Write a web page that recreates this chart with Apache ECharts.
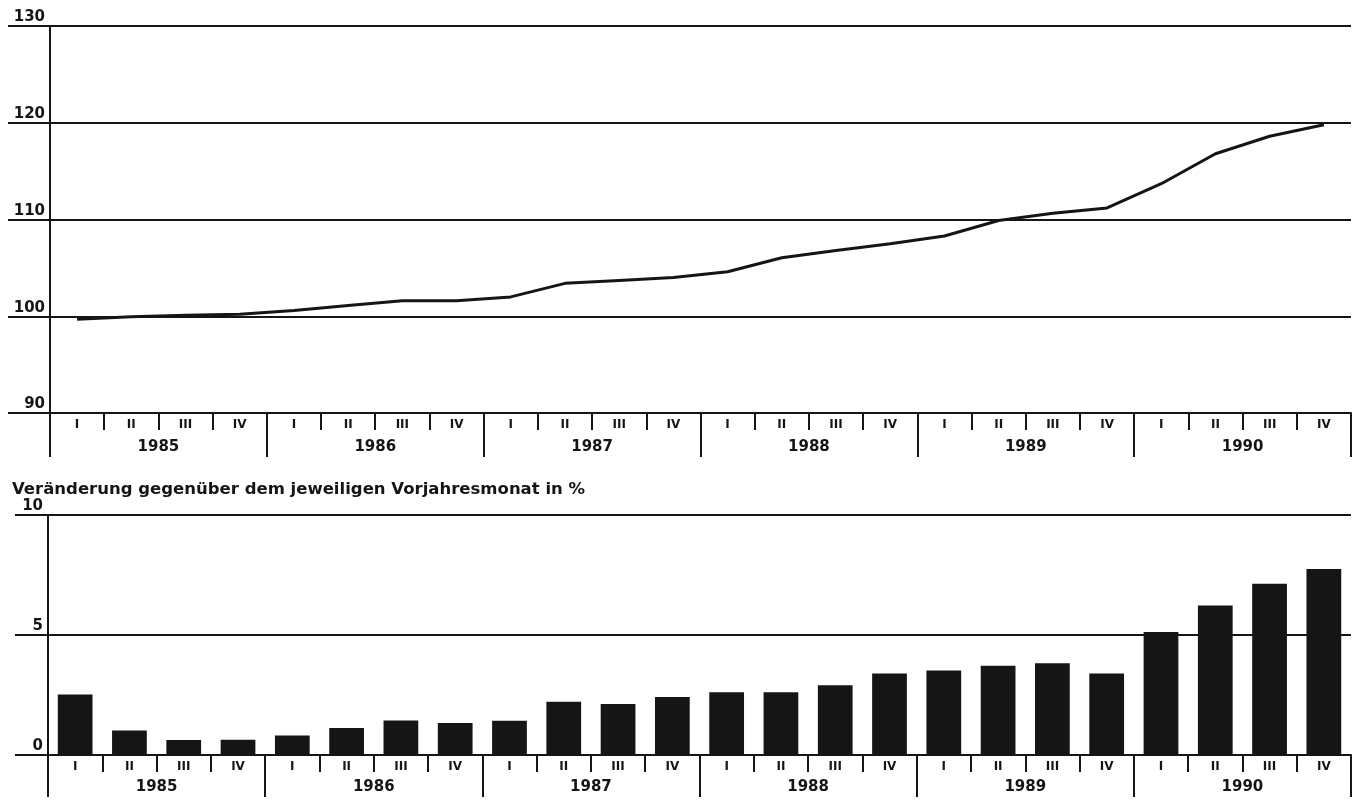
<!DOCTYPE html>
<html>
<head>
<meta charset="utf-8">
<script src="https://cdn.jsdelivr.net/npm/echarts@6/dist/echarts.min.js"></script>
<style>
html,body{margin:0;padding:0;background:#fff;}
#c{width:1356px;height:801px;}
</style>
</head>
<body>
<div id="c"></div>
<script>
const years = ['1985','1986','1987','1988','1989','1990'];
const quarterNames = ['I','II','III','IV'];
const indexValues = [99.7, 99.95, 100.1, 100.2, 100.6, 101.1, 101.6, 101.6, 102.0, 103.4, 103.7, 104.0, 104.6, 106.05, 106.8, 107.5, 108.3, 109.9, 110.65, 111.2, 113.7, 116.8, 118.6, 119.8];
const changeValues = [2.52, 1.02, 0.62, 0.64, 0.81, 1.12, 1.44, 1.33, 1.43, 2.22, 2.12, 2.42, 2.61, 2.61, 2.91, 3.40, 3.52, 3.72, 3.82, 3.40, 5.13, 6.23, 7.14, 7.75];
const subTitle = 'Veränderung gegenüber dem jeweiligen Vorjahresmonat in %';

const quarters = [];
years.forEach(y => quarterNames.forEach(q => quarters.push(q)));

const INK = '#151515';
const FONT = 'DejaVu Sans';

function quarterAxis(gridIndex, margin) {
  return {
    type: 'category', gridIndex: gridIndex, data: quarters, boundaryGap: true, position: 'bottom',
    axisLine: {show: true, lineStyle: {color: INK, width: 2}},
    axisTick: {show: true, interval: 0, length: 17, lineStyle: {color: INK, width: 2}},
    axisLabel: {interval: 0, margin: margin, color: INK, fontFamily: FONT, fontWeight: 'bold', fontSize: 12}
  };
}
function yearAxis(gridIndex, margin, tickLen) {
  return {
    type: 'category', gridIndex: gridIndex, data: years, boundaryGap: true, position: 'bottom',
    axisLine: {show: false},
    axisTick: {show: true, interval: 0, length: tickLen, lineStyle: {color: INK, width: 2}},
    axisLabel: {interval: 0, margin: margin, color: INK, fontFamily: FONT, fontWeight: 'bold', fontSize: 15}
  };
}
function valueAxis(gridIndex, min, max, interval, tickLen) {
  return {
    type: 'value', gridIndex: gridIndex, min: min, max: max, interval: interval,
    axisLine: {show: true, lineStyle: {color: INK, width: 2}},
    axisTick: {show: true, length: tickLen, lineStyle: {color: INK, width: 2}},
    splitLine: {show: true, lineStyle: {color: INK, width: 2}},
    axisLabel: {margin: 5, color: INK, fontFamily: FONT, fontWeight: 'bold', fontSize: 15, verticalAlign: 'bottom', padding: [0,0,1,0]}
  };
}

const chart = echarts.init(document.getElementById('c'), null, {renderer: 'canvas'});
chart.setOption({
  backgroundColor: '#fff',
  animation: false,
  title: {
    text: subTitle, left: 7, top: 476,
    textStyle: {color: INK, fontFamily: FONT, fontWeight: 'bold', fontSize: 16.5}
  },
  grid: [
    {left: 50, right: 5, top: 26, bottom: 388},
    {left: 48, right: 5, top: 515, bottom: 46}
  ],
  xAxis: [
    quarterAxis(0, 6),
    yearAxis(0, 27, 44),
    quarterAxis(1, 6),
    yearAxis(1, 25, 42)
  ],
  yAxis: [
    valueAxis(0, 90, 130, 10, 42),
    valueAxis(1, 0, 10, 5, 33)
  ],
  series: [
    {
      type: 'line', xAxisIndex: 0, yAxisIndex: 0, data: indexValues,
      symbol: 'none', lineStyle: {color: INK, width: 3}, z: 5
    },
    {
      type: 'bar', xAxisIndex: 2, yAxisIndex: 1, data: changeValues,
      barWidth: '64%', itemStyle: {color: INK}, z: 5
    }
  ]
});
</script>
</body>
</html>
